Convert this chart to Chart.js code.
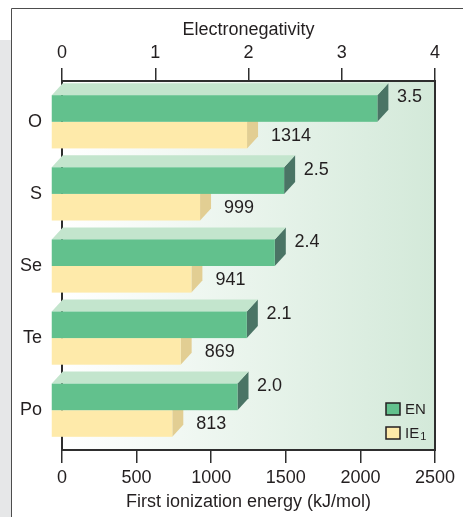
<!DOCTYPE html>
<html><head><meta charset="utf-8">
<style>html,body{margin:0;padding:0;background:#fff;}#wrap{width:463px;height:517px;}</style>
<script src="https://cdn.jsdelivr.net/npm/chart.js@4/dist/chart.umd.min.js"></script>
</head><body><div id="wrap"><canvas id="c" width="463" height="517"></canvas></div>
<script>
const categories = ['O', 'S', 'Se', 'Te', 'Po'];
const enValues = [3.5, 2.5, 2.4, 2.1, 2.0];
const ieValues = [1314, 999, 941, 869, 813];
const enTicks = [0, 1, 2, 3, 4];
const ieTicks = [0, 500, 1000, 1500, 2000, 2500];
const enLabel = 'EN';
const ieLabel = 'IE';
const ieSub = '1';
const enTitle = 'Electronegativity';
const ieTitle = 'First ionization energy (kJ/mol)';

const TEXT = '#231f20';
const LINE = '#2e2e2e';
const FAM = "'Liberation Sans', Arial, Helvetica, sans-serif";
const DX = 11, DY = 12;
const faces = [
  {front: '#62c18d', top: '#c3e5cd', side: '#4a7465'},
  {front: '#feeaaa', top: '#fdf3cf', side: '#e2ce93'}
];

function poly(ctx, pts) {
  ctx.beginPath();
  ctx.moveTo(pts[0][0], pts[0][1]);
  for (let i = 1; i < pts.length; i++) ctx.lineTo(pts[i][0], pts[i][1]);
  ctx.closePath();
  ctx.fill();
}

const frame = {
  id: 'frame',
  beforeDraw(chart) {
    const ctx = chart.ctx;
    ctx.save();
    ctx.fillStyle = '#e6e7e8';
    ctx.fillRect(0, 40, 11, chart.height - 40);
    ctx.strokeStyle = '#4d4d4d';
    ctx.lineWidth = 1;
    ctx.beginPath();
    ctx.moveTo(11.5, chart.height); ctx.lineTo(11.5, 8.5); ctx.lineTo(chart.width, 8.5);
    ctx.stroke();
    ctx.restore();
  },
  beforeDatasetsDraw(chart) {
    const {ctx, chartArea: a} = chart;
    ctx.save();
    const g = ctx.createLinearGradient(a.left, 0, a.right, 0);
    g.addColorStop(0, '#ffffff');
    g.addColorStop(1, '#d3e9d9');
    ctx.fillStyle = g;
    ctx.fillRect(a.left, a.top, a.right - a.left, a.bottom - a.top);
    ctx.strokeStyle = LINE;
    ctx.lineWidth = 2;
    ctx.strokeRect(a.left, a.top, a.right - a.left, a.bottom - a.top);
    ctx.restore();
  },
  afterDatasetsDraw(chart) {
    const {ctx, chartArea: a} = chart;
    ctx.save();
    [1, 0].forEach(di => {
      const meta = chart.getDatasetMeta(di);
      const c = faces[di];
      meta.data.forEach(el => {
        const {x, y, base, height} = el.getProps(['x', 'y', 'base', 'height'], true);
        const top = y - height / 2, bot = y + height / 2;
        ctx.fillStyle = c.side;
        poly(ctx, [[x - DX, top], [x, top - DY], [x, bot - DY], [x - DX, bot]]);
        if (di === 0) {
          ctx.fillStyle = c.top;
          poly(ctx, [[base - DX, top], [x - DX, top], [x, top - DY], [base, top - DY]]);
        }
        ctx.fillStyle = c.front;
        ctx.fillRect(base - DX, top, x - base, height);
      });
    });
    // value labels
    ctx.fillStyle = TEXT;
    ctx.font = '18px ' + FAM;
    ctx.textAlign = 'left';
    ctx.textBaseline = 'middle';
    const srcs = [enValues, ieValues];
    [0, 1].forEach(di => {
      const meta = chart.getDatasetMeta(di);
      meta.data.forEach((el, i) => {
        const {x, y} = el.getProps(['x', 'y'], true);
        const v = srcs[di][i];
        const txt = di === 0 ? v.toFixed(1) : String(v);
        if (di === 0) ctx.fillText(txt, x + 8.6, y - DY + 1);
        else ctx.fillText(txt, x + 13, y + 1);
      });
    });
    // legend
    const bx = a.right - 49;
    const items = [
      {y: a.bottom - 47, color: faces[0].front, text: enLabel, sub: ''},
      {y: a.bottom - 23, color: faces[1].front, text: ieLabel, sub: ieSub}
    ];
    items.forEach(it => {
      ctx.fillStyle = it.color;
      ctx.fillRect(bx, it.y, 14, 12);
      ctx.strokeStyle = TEXT;
      ctx.lineWidth = 1.5;
      ctx.strokeRect(bx, it.y, 14, 12);
      ctx.fillStyle = TEXT;
      ctx.font = '15px ' + FAM;
      ctx.fillText(it.text, bx + 19, it.y + 6.5);
      if (it.sub) {
        const w = ctx.measureText(it.text).width;
        ctx.font = '11px ' + FAM;
        ctx.fillText(it.sub, bx + 19 + w + 1, it.y + 10);
      }
    });
    ctx.restore();
  }
};

const tickFont = {family: FAM, size: 18};
const plain = v => String(v);

new Chart(document.getElementById('c'), {
  type: 'bar',
  data: {
    datasets: [
      {label: enLabel, data: enValues.map((v, i) => ({x: v, y: i})), xAxisID: 'xTop', backgroundColor: 'rgba(0,0,0,0)', borderWidth: 0},
      {label: ieLabel, data: ieValues.map((v, i) => ({x: v, y: i})), xAxisID: 'xBottom', backgroundColor: 'rgba(0,0,0,0)', borderWidth: 0}
    ]
  },
  options: {
    indexAxis: 'y',
    responsive: false,
    animation: false,
    events: [],
    layout: {padding: {left: 0, right: 28, top: 0, bottom: 0}},
    datasets: {bar: {categoryPercentage: 0.738, barPercentage: 1}},
    plugins: {legend: {display: false}, tooltip: {enabled: false}},
    scales: {
      y: {
        type: 'linear', reverse: true, min: -0.566, max: 4.552,
        offset: false, bounds: 'data', grace: 0,
        afterBuildTicks(s) { s.ticks = categories.map((c, i) => ({value: i})); },
        grid: {display: false, drawTicks: false, offset: false},
        border: {display: false},
        ticks: {padding: 20, color: TEXT, font: tickFont, includeBounds: false, callback: (v) => categories[v]},
        afterFit(s) { s.width = 62; }
      },
      xTop: {
        type: 'linear', position: 'top', min: enTicks[0], max: enTicks[enTicks.length - 1],
        afterBuildTicks(s) { s.ticks = enTicks.map(v => ({value: v})); },
        grid: {drawOnChartArea: false, drawTicks: true, tickLength: 13, color: LINE, lineWidth: 1.5},
        border: {display: false},
        ticks: {padding: 4, color: TEXT, font: tickFont, maxRotation: 0, callback: plain},
        title: {display: true, text: enTitle, color: TEXT, font: tickFont, padding: {top: 19.5, bottom: 0}},
        afterFit(s) { s.height = 81; }
      },
      xBottom: {
        type: 'linear', position: 'bottom', min: ieTicks[0], max: ieTicks[ieTicks.length - 1],
        afterBuildTicks(s) { s.ticks = ieTicks.map(v => ({value: v})); },
        grid: {drawOnChartArea: false, drawTicks: true, tickLength: 13, color: LINE, lineWidth: 1.5},
        border: {display: false},
        ticks: {padding: 4.5, color: TEXT, font: tickFont, maxRotation: 0, callback: plain},
        title: {display: true, text: ieTitle, color: TEXT, font: tickFont, padding: {top: 0, bottom: 4.5}},
        afterFit(s) { s.height = 67; }
      }
    }
  },
  plugins: [frame]
});
</script>
</body></html>
